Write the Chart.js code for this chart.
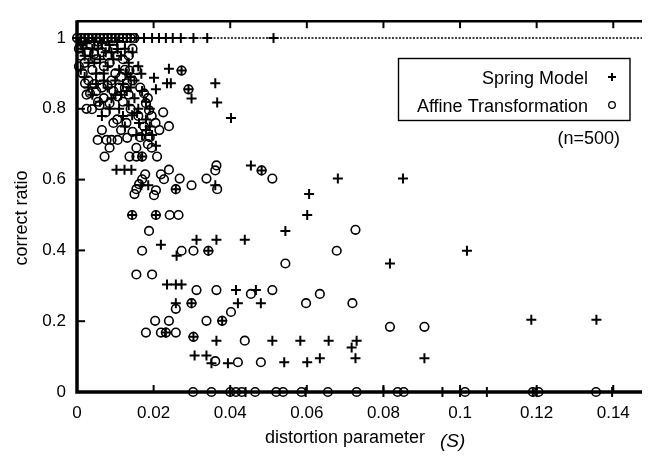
<!DOCTYPE html>
<html><head><meta charset="utf-8">
<script src="https://cdn.jsdelivr.net/npm/chart.js@4"></script>
<style>html,body{margin:0;padding:0;background:#fff}#wrap{width:649px;height:456px;position:relative}</style>
</head><body><div id="wrap"><canvas id="c" width="649" height="456"></canvas></div>
<script>
const xTicks = [0, 0.02, 0.04, 0.06, 0.08, 0.1, 0.12, 0.14];
const xTickLabels = ['0', '0.02', '0.04', '0.06', '0.08', '0.1', '0.12', '0.14'];
const yTicks = [0, 0.2, 0.4, 0.6, 0.8, 1];
const yTickLabels = ['0', '0.2', '0.4', '0.6', '0.8', '1'];
const seriesNames = ['Spring Model', 'Affine Transformation'];
const noteText = '(n=500)';

// Spring Model (+)
const springS = [
  0, 0.001, 0.002, 0.003, 0.004, 0.005, 0.006, 0.007, 0.008, 0.009, 0.010, 0.011, 0.012, 0.013, 0.014, 0.0155, 0.0175, 0.0196, 0.0214, 0.0232, 0.0250, 0.0271, 0.0304, 0.0340, 0.0513,
  0.001, 0.002, 0.003, 0.004, 0.005, 0.006, 0.007, 0.008, 0.009, 0.010, 0.011, 0.012, 0.013, 0.014, 0.015, 0.016, 0.018, 0.019, 0.0106,
  0.0005, 0.0015, 0.0025, 0.0035, 0.0045, 0.0055, 0.0065, 0.0075, 0.0085, 0.0095, 0.0105, 0.0115, 0.0125, 0.0135, 0.0145,
  0.001, 0.002, 0.003, 0.004, 0.005, 0.006, 0.007, 0.008, 0.009, 0.010, 0.011, 0.012, 0.013, 0.014, 0.015, 0.016, 0.017, 0.018, 0.019, 0.0125, 0.0135, 0.0115, 0.0085, 0.0065, 0.0045,
  0.0168, 0.0201, 0.0240, 0.0235, 0.0245, 0.0206, 0.0273, 0.0291, 0.0299, 0.0361, 0.0366, 0.0402, 0.0157, 0.0144, 0.0162, 0.0180,
  0.0155, 0.0170, 0.0196, 0.0206, 0.0170, 0.0103, 0.0124, 0.0142, 0.0168, 0.0186, 0.0258, 0.0144, 0.0206, 0.0454, 0.0482, 0.0361,
  0.0606, 0.0601, 0.0681, 0.0851, 0.0219, 0.0544, 0.0312, 0.0364, 0.0438, 0.0260, 0.0343, 0.1018, 0.0817, 0.0235, 0.0258, 0.0273,
  0.0415, 0.0467, 0.0258, 0.0299, 0.0420, 0.0480, 0.0379, 0.0232, 0.0304, 0.0364, 0.0510, 0.0583, 0.0657, 0.0730, 0.0717, 0.1186,
  0.1356, 0.0307, 0.0338, 0.0351, 0.0394, 0.0541, 0.0601, 0.0634, 0.0727, 0.0907,
  0.040, 0.044, 0.0597, 0.080, 0.0954, 0.100, 0.107, 0.1190, 0.1200, 0.1397
];
const springRatio = [
  1, 1, 1, 1, 1, 1, 1, 1, 1, 1, 1, 1, 1, 1, 1, 1, 1, 1, 1, 1, 1, 1, 1, 1, 1,
  0.98, 0.95, 0.93, 0.97, 0.90, 0.94, 0.88, 0.92, 0.96, 0.84, 0.91, 0.87, 0.85, 0.89, 0.83, 0.80, 0.77, 0.75, 0.969,
  0.99, 0.97, 0.985, 0.95, 0.99, 0.97, 0.985, 0.96, 0.98, 0.94, 0.99, 0.95, 0.97, 0.93, 0.96,
  0.91, 0.89, 0.86, 0.84, 0.87, 0.82, 0.90, 0.86, 0.83, 0.88, 0.80, 0.78, 0.90, 0.86, 0.88, 0.92, 0.85, 0.82, 0.80, 0.75, 0.81, 0.84, 0.80, 0.78, 0.93,
  0.899, 0.888, 0.913, 0.872, 0.872, 0.855, 0.908, 0.855, 0.829, 0.872, 0.818, 0.774, 0.788, 0.782, 0.760, 0.740,
  0.726, 0.726, 0.726, 0.696, 0.665, 0.628, 0.628, 0.628, 0.584, 0.584, 0.573, 0.5, 0.5, 0.640, 0.626, 0.584,
  0.559, 0.5, 0.603, 0.603, 0.416, 0.455, 0.430, 0.430, 0.430, 0.385, 0.399, 0.399, 0.363, 0.304, 0.304, 0.304,
  0.288, 0.288, 0.251, 0.251, 0.251, 0.251, 0.201, 0.168, 0.156, 0.145, 0.145, 0.145, 0.145, 0.145, 0.126, 0.204,
  0.204, 0.103, 0.103, 0.081, 0.081, 0.084, 0.084, 0.095, 0.095, 0.095,
  0, 0, 0, 0, 0, 0, 0, 0, 0, 0
];

// Affine Transformation (o)
const affineS = [
  0, 0.001, 0.002, 0.003, 0.004, 0.005, 0.006, 0.007, 0.008, 0.009, 0.010, 0.011, 0.012, 0.013, 0.014, 0.015,
  0.001, 0.002, 0.003, 0.004, 0.005, 0.006, 0.007, 0.008, 0.009, 0.010, 0.011, 0.012, 0.003, 0.005, 0.007, 0.012, 0.014, 0.016, 0.0175, 0.019, 0.0155,
  0.0005, 0.0015, 0.0025, 0.0035, 0.0045, 0.0055, 0.0065, 0.0075, 0.0085, 0.0095, 0.0105, 0.0115, 0.0125, 0.0135, 0.0145,
  0.0005, 0.0015, 0.0025, 0.0045, 0.0055, 0.0065, 0.0075, 0.0095, 0.0105, 0.0115, 0.0125, 0.0135, 0.0145, 0.0155, 0.0165, 0.0185, 0.0195, 0.0205, 0.0115, 0.0095, 0.0065, 0.0025, 0.0145, 0.0165, 0.0185, 0.0215, 0.0225, 0.0195, 0.0085,
  0.0021, 0.0034, 0.0039, 0.0059, 0.0085, 0.0106, 0.0080, 0.0131, 0.0137, 0.0175, 0.0180, 0.0188, 0.0129, 0.0240,
  0.0054, 0.0077, 0.0090, 0.0106, 0.0131, 0.0072, 0.0137, 0.0155, 0.0170, 0.0209, 0.0178, 0.0219, 0.0240, 0.0227, 0.0170, 0.0162,
  0.0155, 0.0150, 0.0206, 0.0201, 0.0258, 0.0144, 0.0206, 0.0242, 0.0265, 0.0188, 0.0170, 0.0155, 0.0196, 0.0258, 0.0204, 0.0240,
  0.0180, 0.0219, 0.0232, 0.0258,
  0.0364, 0.0361, 0.0510, 0.0268, 0.0299, 0.0338, 0.0366, 0.0273, 0.0291, 0.0482,
  0.0273, 0.0304, 0.0343, 0.0544, 0.0312, 0.0364, 0.0454, 0.0510, 0.0402, 0.0598, 0.0299, 0.0338, 0.0379, 0.0304, 0.0438, 0.0361, 0.0420, 0.0480,
  0.0727, 0.0678, 0.0634, 0.0719, 0.0817, 0.0907,
  0.0303, 0.0351, 0.040, 0.0415, 0.043, 0.0465, 0.052, 0.0538, 0.0586, 0.0655, 0.073, 0.0837, 0.0853, 0.1013, 0.119, 0.1205, 0.1355
];
const affineRatio = [
  1, 1, 1, 1, 1, 1, 1, 1, 1, 1, 1, 1, 1, 1, 1, 1,
  0.95, 0.93, 0.96, 0.91, 0.94, 0.89, 0.92, 0.95, 0.88, 0.90, 0.86, 0.82, 0.88, 0.85, 0.83, 0.94, 0.80, 0.78, 0.75, 0.72, 0.69,
  0.97, 0.99, 0.96, 0.98, 0.955, 0.99, 0.96, 0.975, 0.93, 0.97, 0.95, 0.98, 0.91, 0.95, 0.97,
  0.92, 0.90, 0.84, 0.87, 0.82, 0.86, 0.79, 0.85, 0.77, 0.89, 0.86, 0.84, 0.88, 0.91, 0.86, 0.83, 0.78, 0.76, 0.74, 0.76, 0.74, 0.80, 0.735, 0.72, 0.70, 0.74, 0.79, 0.69, 0.69,
  0.872, 0.844, 0.799, 0.810, 0.816, 0.835, 0.866, 0.872, 0.908, 0.844, 0.816, 0.796, 0.760, 0.751,
  0.712, 0.712, 0.712, 0.712, 0.718, 0.665, 0.665, 0.665, 0.665, 0.665, 0.615, 0.615, 0.628, 0.601, 0.601, 0.587,
  0.573, 0.559, 0.570, 0.556, 0.573, 0.5, 0.5, 0.5, 0.5, 0.455, 0.399, 0.332, 0.332, 0.235, 0.201, 0.201,
  0.168, 0.168, 0.168, 0.168,
  0.640, 0.626, 0.603, 0.603, 0.584, 0.603, 0.573, 0.908, 0.855, 0.626,
  0.399, 0.399, 0.399, 0.363, 0.288, 0.288, 0.277, 0.288, 0.226, 0.251, 0.251, 0.201, 0.201, 0.156, 0.145, 0.087, 0.084, 0.084,
  0.458, 0.399, 0.277, 0.251, 0.184, 0.184,
  0, 0, 0, 0, 0, 0, 0, 0, 0, 0, 0, 0, 0, 0, 0, 0, 0
];

const FONT = '"Liberation Sans", Arial, Helvetica, sans-serif';
const toPts = (xs, ys) => xs.map((v, i) => ({ x: v, y: ys[i] }));

const framePlugin = {
  id: 'frame',
  afterDatasetsDraw(chart) {
    const { ctx, chartArea: a, scales: { x, y } } = chart;
    ctx.save();
    ctx.strokeStyle = '#000';
    ctx.fillStyle = '#000';
    const y1 = y.getPixelForValue(1);
    ctx.lineWidth = 1.3;
    ctx.setLineDash([2, 1.5]);
    ctx.beginPath(); ctx.moveTo(a.left, y1); ctx.lineTo(a.right, y1); ctx.stroke();
    ctx.setLineDash([]);
    ctx.lineWidth = 2.5;
    ctx.beginPath(); ctx.moveTo(a.left, a.top); ctx.lineTo(a.right, a.top); ctx.stroke();
    ctx.lineWidth = 3.5;
    ctx.beginPath(); ctx.moveTo(a.left, a.top - 1); ctx.lineTo(a.left, a.bottom); ctx.lineTo(a.right, a.bottom); ctx.stroke();
    ctx.lineWidth = 2;
    xTicks.forEach(v => {
      if (v === 0) return;
      const px = x.getPixelForValue(v);
      ctx.beginPath(); ctx.moveTo(px, a.bottom); ctx.lineTo(px, a.bottom - 7); ctx.stroke();
      ctx.beginPath(); ctx.moveTo(px, a.top); ctx.lineTo(px, a.top + 7); ctx.stroke();
    });
    yTicks.forEach(v => {
      if (v === 0) return;
      const py = y.getPixelForValue(v);
      ctx.beginPath(); ctx.moveTo(a.left, py); ctx.lineTo(a.left + 8, py); ctx.stroke();
    });
    ctx.lineWidth = 1.4;
    ctx.strokeRect(398.5, 58.5, 231.5, 62);
    ctx.font = '18px ' + FONT;
    ctx.textAlign = 'right';
    ctx.textBaseline = 'alphabetic';
    ctx.fillText(seriesNames[0], 588, 84);
    ctx.fillText(seriesNames[1], 588, 112);
    ctx.lineWidth = 2;
    ctx.beginPath(); ctx.moveTo(608, 77); ctx.lineTo(616, 77); ctx.moveTo(612, 73); ctx.lineTo(612, 81); ctx.stroke();
    ctx.lineWidth = 1.3;
    ctx.beginPath(); ctx.arc(612, 105, 3.3, 0, Math.PI * 2); ctx.stroke();
    ctx.fillText(noteText, 620, 144);
    ctx.textAlign = 'left';
    ctx.fillText('distortion parameter', 265, 443);
    ctx.font = 'italic 19px ' + FONT;
    ctx.fillText('(S)', 440, 447);
    ctx.font = '18px ' + FONT;
    ctx.save();
    ctx.translate(27, 218);
    ctx.rotate(-Math.PI / 2);
    ctx.textAlign = 'center';
    ctx.fillText('correct ratio', 0, 0);
    ctx.restore();
    ctx.restore();
  }
};

new Chart(document.getElementById('c'), {
  type: 'scatter',
  data: {
    datasets: [
      {
        label: seriesNames[1],
        data: toPts(affineS, affineRatio),
        pointStyle: 'circle',
        pointRadius: 4.3,
        pointBorderWidth: 1.6,
        borderColor: '#000',
        backgroundColor: 'rgba(0,0,0,0)',
        clip: false
      },
      {
        label: seriesNames[0],
        data: toPts(springS, springRatio),
        pointStyle: 'cross',
        pointRadius: 5,
        pointBorderWidth: 2,
        borderColor: '#000',
        backgroundColor: '#000',
        clip: false
      }
    ]
  },
  options: {
    responsive: false,
    animation: false,
    devicePixelRatio: 1,
    layout: { padding: { top: 17, right: 0, left: 0, bottom: 0 } },
    plugins: { legend: { display: false }, tooltip: { enabled: false } },
    scales: {
      x: {
        type: 'linear', min: 0, max: 0.1475,
        grid: { display: false, drawTicks: false },
        border: { display: false },
        afterBuildTicks: s => { s.ticks = xTicks.map(v => ({ value: v })); },
        afterFit: s => { s.height = 64; },
        ticks: {
          color: '#000', padding: 11, maxRotation: 0, autoSkip: false,
          font: { size: 17, family: FONT },
          callback: (v, i) => xTickLabels[i]
        }
      },
      y: {
        type: 'linear', min: 0, max: 1.0475,
        grid: { display: false, drawTicks: false },
        border: { display: false },
        afterBuildTicks: s => { s.ticks = yTicks.map(v => ({ value: v })); },
        afterFit: s => { s.width = 77; },
        ticks: {
          color: '#000', padding: 11, autoSkip: false,
          font: { size: 17, family: FONT },
          callback: (v, i) => yTickLabels[i]
        }
      }
    }
  },
  plugins: [framePlugin]
});
</script>
</body></html>
